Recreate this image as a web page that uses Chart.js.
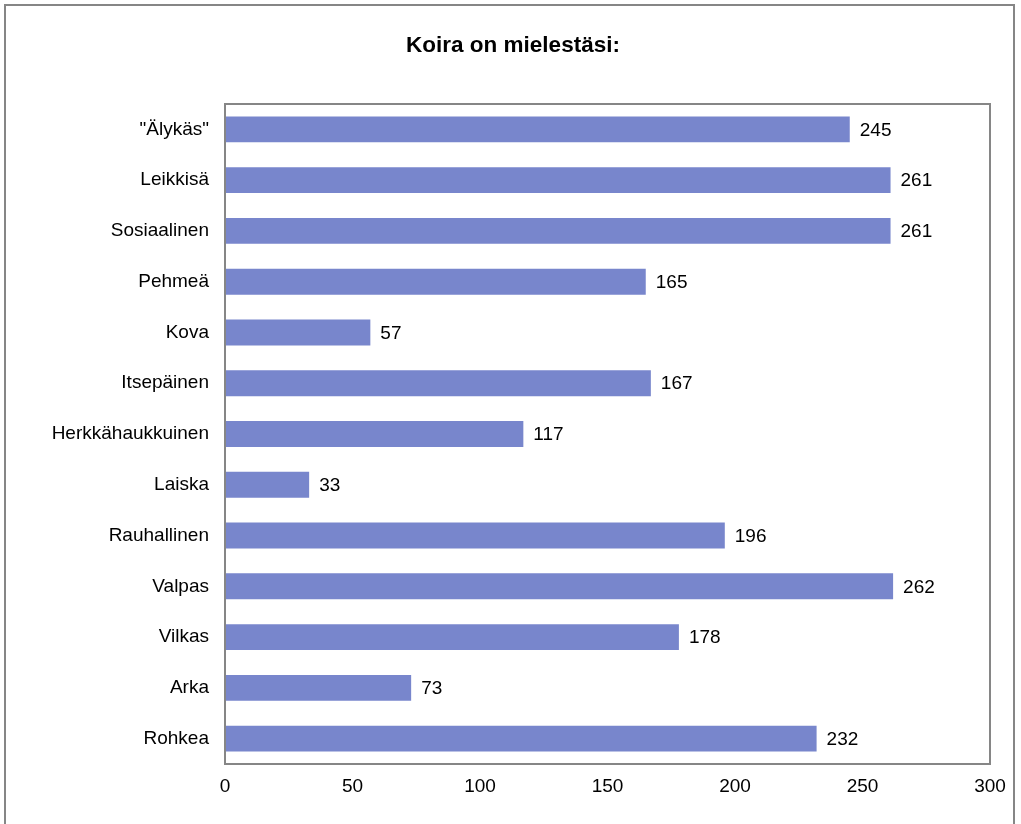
<!DOCTYPE html>
<html lang="fi">
<head>
<meta charset="UTF-8">
<title>Koira on mielestäsi:</title>
<script src="https://cdn.jsdelivr.net/npm/chart.js"></script>
<style>
  html, body { margin: 0; padding: 0; background: #fff; }
  #wrap { width: 1021px; height: 824px; }
</style>
</head>
<body>
<div id="wrap"><canvas id="koiraChart" width="1021" height="824"></canvas></div>
<script>
// data
var categories = ['"Älykäs"', 'Leikkisä', 'Sosiaalinen', 'Pehmeä', 'Kova', 'Itsepäinen',
  'Herkkähaukkuinen', 'Laiska', 'Rauhallinen', 'Valpas', 'Vilkas', 'Arka', 'Rohkea'];
var values = [245, 261, 261, 165, 57, 167, 117, 33, 196, 262, 178, 73, 232];
var xTicks = [0, 50, 100, 150, 200, 250, 300];
var chartTitle = 'Koira on mielestäsi:';

var FONT = '"Liberation Sans", Arial, sans-serif';

// outer frame, title, plot border and value labels
var frames = {
  id: 'frames',
  beforeDraw: function (chart) {
    var c = chart.ctx;
    c.save();
    c.fillStyle = '#fff';
    c.fillRect(0, 0, chart.width, chart.height);
    c.strokeStyle = '#868686';
    c.lineWidth = 2;
    c.strokeRect(5, 5, 1009, 840);
    // title is centred on the whole frame, not on the padded chart box
    c.fillStyle = '#000';
    c.font = 'bold 22.5px ' + FONT;
    c.textAlign = 'center';
    c.textBaseline = 'middle';
    c.fillText(chartTitle, 513, 46);
    c.restore();
  },
  afterDatasetsDraw: function (chart) {
    var a = chart.chartArea, c = chart.ctx;
    c.save();
    c.strokeStyle = '#868686';
    c.lineWidth = 2;
    c.strokeRect(a.left, a.top, a.right - a.left, a.bottom - a.top);
    var meta = chart.getDatasetMeta(0);
    c.fillStyle = '#000';
    c.font = '19px ' + FONT;
    c.textAlign = 'left';
    c.textBaseline = 'middle';
    meta.data.forEach(function (bar, i) {
      c.fillText(String(values[i]), bar.x + 10, bar.y + 1);
    });
    c.restore();
  }
};

new Chart(document.getElementById('koiraChart'), {
  type: 'bar',
  data: {
    labels: categories,
    datasets: [{
      data: values,
      backgroundColor: '#7886cc',
      borderWidth: 0,
      barPercentage: 0.51,
      categoryPercentage: 1
    }]
  },
  options: {
    indexAxis: 'y',
    responsive: false,
    animation: false,
    layout: { padding: { left: 0, right: 31, top: 104, bottom: 0 } },
    plugins: {
      legend: { display: false },
      tooltip: { enabled: false },
      title: { display: false }
    },
    scales: {
      x: {
        min: 0, max: 300,
        afterBuildTicks: function (axis) { axis.ticks = xTicks.map(function (v) { return { value: v }; }); },
        grid: { display: false, drawTicks: false },
        border: { display: false },
        ticks: { color: '#000', font: { family: FONT, size: 19 }, padding: 11, maxRotation: 0 },
        afterFit: function (axis) { axis.height = 60; }
      },
      y: {
        grid: { display: false, drawTicks: false },
        border: { display: false },
        ticks: { color: '#000', font: { family: FONT, size: 19 }, padding: 16 },
        afterFit: function (axis) { axis.width = 225; }
      }
    }
  },
  plugins: [frames]
});
</script>
</body>
</html>
